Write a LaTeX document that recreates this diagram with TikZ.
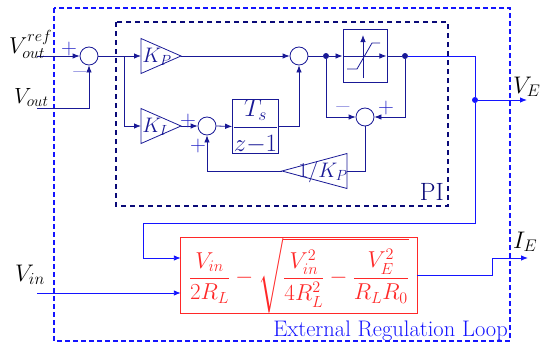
\RequirePackage{fix-cm}
\documentclass[tikz,border=0pt]{standalone}
\usepackage{amsmath}
\usetikzlibrary{arrows.meta,calc}
\definecolor{blk}{RGB}{25,25,150}
\definecolor{navybox}{RGB}{10,10,120}
\definecolor{ext}{RGB}{20,20,255}
\definecolor{lav}{RGB}{150,150,225}
\definecolor{plusc}{RGB}{40,40,200}
\definecolor{redc}{RGB}{255,40,40}
\newcommand{\fs}[1]{\fontsize{#1}{#1}\selectfont}
\begin{document}
\begin{tikzpicture}[x=1pt,y=-1pt,
  sig/.style={-{Latex[length=7pt,width=5.5pt]}},
  blkline/.style={draw=blk,line width=0.8pt},
  extline/.style={draw=ext,line width=0.9pt},
  sumnode/.style={circle,draw=blk,line width=0.8pt,minimum size=18pt,inner sep=0pt},
  boxnode/.style={draw=blk,line width=0.9pt,inner sep=0pt},
  dotnode/.style={circle,fill,inner sep=0pt,minimum size=6pt},
  gainlbl/.style={text=blk,font=\fs{21},inner sep=0pt},
  signp/.style={text=plusc,font=\fs{22},inner sep=0pt},
  signm/.style={text=lav,font=\fs{22},inner sep=0pt},
  iolbl/.style={anchor=base west,inner sep=0pt}
]
\useasboundingbox (0,0) rectangle (547,348);

% dashed boxes
\draw[ext,line width=2pt,dash pattern=on 5pt off 3pt] (54,8) rectangle (510,341);
\draw[navybox,line width=2pt,dash pattern=on 5pt off 4pt] (116,22) rectangle (448,206);

% nodes
\node[sumnode] (s1) at (89,56) {};
\node[sumnode] (s2) at (299,56) {};
\node[sumnode] (s3) at (207,126) {};
\node[sumnode] (s4) at (365,117) {};
\node[boxnode,minimum width=45pt,minimum height=53pt,text=blk,font=\fs{25}] (ts) at (255.5,126.5) {$\displaystyle\frac{T_s}{z{-}1}$};
\node[boxnode,minimum width=44pt,minimum height=53pt] (sat) at (365,56) {};
\node[color=redc,minimum width=236pt,minimum height=69pt,inner sep=0pt,font=\fs{23}] (fx) at (299,275.5)
  {$\displaystyle\frac{V_{in}}{2R_L}-\sqrt{\frac{V_{in}^2}{4R_L^2}-\frac{V_E^2}{R_LR_0}}$};
\draw[redc,line width=0.9pt] (fx.north west) rectangle (fx.south east);
\node[dotnode,blk] (d1) at (326,56) {};
\node[dotnode,blk] (d2) at (405,56) {};
\node[dotnode,ext] (d3) at (475,100) {};

% triangles
\coordinate (kpL) at (141,56); \coordinate (kpR) at (181,56);
\coordinate (kiL) at (141,126); \coordinate (kiR) at (181,126);
\coordinate (kvL) at (282,171); \coordinate (kvR) at (347,171);
\draw[blkline] (141,38.5) -- (kpR) -- (141,73.5) -- cycle;
\draw[blkline] (141,108.5) -- (kiR) -- (141,143.5) -- cycle;
\draw[blkline] (347,153.5) -- (kvL) -- (347,188.5) -- cycle;
\node[gainlbl] (kp) at (157,57) {$K_P$};
\node[gainlbl] (ki) at (155,127) {$K_I$};
\node[gainlbl] (kv) at (323,172) {$1/K_P$};

% saturation internals
\draw[blkline,sig] ([xshift=1pt]sat.west) -- ([xshift=-1pt]sat.east);
\draw[blkline,sig] ($(sat.center)+(-2,22)$) -- ($(sat.center)+(-2,-21)$);
\draw[blkline] ($(sat.center)+(-18,13)$) -- ($(sat.center)+(-8,13)$) -- ($(sat.center)+(7,-13)$) -- ($(sat.center)+(15,-13)$);

% coordinates
\coordinate (refin) at (37,56);
\coordinate (voutin) at (37,108);
\coordinate (br) at (124,56);
\coordinate (vinin) at (37,293);
\coordinate (ve) at (527,100);
\coordinate (fb1) at (143,223);
\coordinate (fb2) at (143,258);
\coordinate (ie1) at (492,258);
\coordinate (ie) at (528,258);

% PI connectors
\draw[blkline,sig] (refin) -- (s1.west);
\draw[blkline,sig] (voutin) -| (s1.south);
\draw[blkline,sig] (s1.east) -- (kpL);
\draw[blkline,sig] (br) |- (kiL);
\draw[blkline,sig] (kpR) -- (s2.west);
\draw[blkline,sig] (kiR) -- (s3.west);
\draw[blkline,sig] (s3.east) -- (ts.west);
\draw[blkline,sig] (ts.east) -| (s2.south);
\draw[blkline] (s2.east) -- (d1);
\draw[blkline,sig] (d1) -- (sat.west);
\draw[blkline] (sat.east) -- (d2);
\draw[blkline,sig] (d1) |- (s4.west);
\draw[blkline,sig] (d2) |- (s4.east);
\draw[blkline] (s4.south) |- (kvR);
\draw[blkline,sig] (kvL) -| (s3.south);

% external connectors
\draw[extline] (d2) -| (d3);
\draw[extline,sig] (d3) -- (ve);
\draw[extline,sig] (d3) |- (fb1) -- (fb2) -- (fx.west |- fb2);
\draw[extline,sig] (vinin) -- (fx.west |- vinin);
\draw[extline,sig] (fx.east) -| (ie1) -- (ie);

% signs
\node[signp] (p1) at (69,49) {$+$};
\node[signm] (m1) at (80,72) {$-$};
\node[signp] (p3a) at (188,121) {$+$};
\node[signp] (p3b) at (198,146) {$+$};
\node[signm] (m4) at (343,107) {$-$};
\node[signp] (p4) at (386,108) {$+$};

% labels
\node[iolbl,font=\fs{23}] (lref) at (9,53) {$V_{out}^{ref}$};
\node[iolbl,font=\fs{22}] (lvout) at (14,103) {$V_{out}$};
\node[iolbl,font=\fs{24}] (lvin) at (15,281) {$V_{in}$};
\node[iolbl,font=\fs{24}] (lve) at (513,93) {$V_E$};
\node[iolbl,font=\fs{24}] (lie) at (513,248) {$I_E$};
\node[anchor=base east,inner sep=0pt,text=navybox,font=\fs{25}] (lpi) at (444,200) {PI};
\node[anchor=base east,inner sep=0pt,text=ext,font=\fs{22.5}] (lext) at (508,336) {External Regulation Loop};
\end{tikzpicture}
\end{document}
